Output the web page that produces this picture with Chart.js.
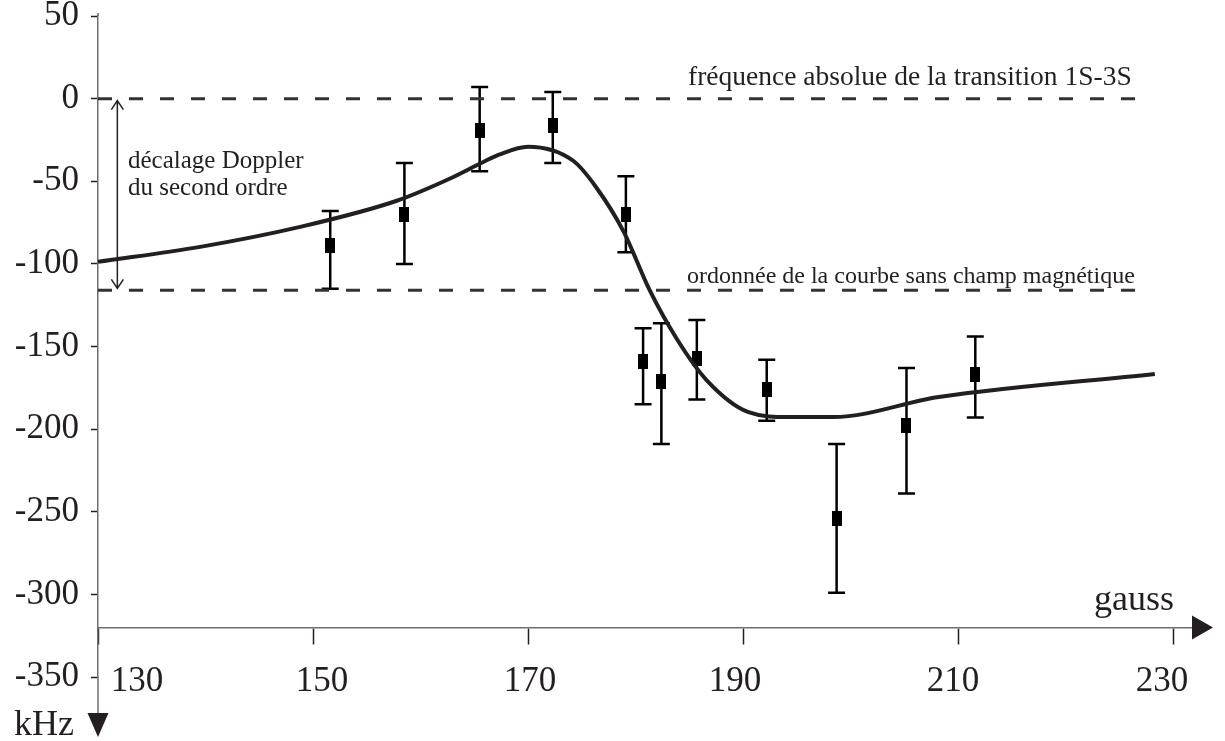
<!DOCTYPE html>
<html lang="fr">
<head>
<meta charset="utf-8">
<title>Décalage Doppler du second ordre</title>
<script src="https://cdn.jsdelivr.net/npm/chart.js@4/dist/chart.umd.min.js"></script>
<style>
  html, body { margin: 0; padding: 0; background: #fff; }
  #wrap { width: 1225px; height: 741px; }
</style>
</head>
<body>
<div id="wrap"><canvas id="chart"></canvas></div>
<script>
// ---- Data ----
const xTicks = [130, 150, 170, 190, 210, 230];
const yTicks = [-350, -300, -250, -200, -150, -100, -50, 0, 50];

// measured points (gauss, kHz) with error bars
const pointX = [151.6, 158.5, 165.5, 172.3, 179.1, 180.7, 182.4, 185.7, 192.2, 198.7, 205.2, 211.6];
const pointY = [-89, -70, -19, -16, -70, -159, -171, -157, -176, -254, -198, -167];
const errHigh = [-68, -39, 7, 4, -47, -139, -136, -134, -158, -209, -163, -144];
const errLow = [-115, -100, -44, -39, -93, -185, -209, -182, -195, -299, -239, -193];

// theoretical curve
const curveX = [130, 139.5, 148.8, 157.8, 162.7, 165.7, 167.3, 170.0, 174.2, 176.3, 178.9, 181.3, 183.9, 186.6, 190.5, 194.3, 198.4, 208.2, 228.3];
const curveY = [-98.8, -89.7, -77.6, -61.8, -48.5, -38.8, -33.9, -29.1, -37.6, -53.3, -80.6, -115.8, -146.1, -170.3, -189.7, -192.7, -192.7, -180.6, -166.7];

// reference levels
const absLevel = 0;        // fréquence absolue 1S-3S
const noFieldLevel = -116; // ordonnée sans champ magnétique
const levelX = [130, 228];
const xAxisAt = -320;

// ---- Styles ----
const INK = '#231f20';
const AXIS = '#6d6e71';
const SERIF = '"Liberation Serif", "Times New Roman", serif';
const xLabelShift = [39, 9, 2, -8, -5, -11];

// square marker used for the measured points
const marker = document.createElement('canvas');
marker.width = 10; marker.height = 15;
const mctx = marker.getContext('2d');
mctx.fillStyle = '#000';
mctx.fillRect(0, 0, 10, 15);

const toXY = (xs, ys) => xs.map((x, i) => ({ x: x, y: ys[i] }));

// error bars drawn through the chart scales
const errorBars = {
    id: 'errorBars',
    beforeDatasetsDraw(chart) {
        const { ctx, scales: { x, y } } = chart;
        ctx.save();
        ctx.strokeStyle = '#000';
        ctx.lineWidth = 2.5;
        pointX.forEach((v, i) => {
            const px = x.getPixelForValue(v);
            const top = y.getPixelForValue(errHigh[i]);
            const bot = y.getPixelForValue(errLow[i]);
            ctx.beginPath();
            ctx.moveTo(px, top); ctx.lineTo(px, bot);
            ctx.moveTo(px - 8.5, top); ctx.lineTo(px + 8.5, top);
            ctx.moveTo(px - 8.5, bot); ctx.lineTo(px + 8.5, bot);
            ctx.stroke();
        });
        ctx.restore();
    }
};

// nudge x tick labels like the original drawing
const labelNudge = {
    id: 'labelNudge',
    beforeDraw(chart) {
        const items = chart.scales.x.getLabelItems();
        if (items._nudged) return;
        items.forEach((it, i) => { it.options.translation[0] += xLabelShift[i] || 0; });
        items._nudged = true;
    }
};

// arrows and annotations
const decorations = {
    id: 'decorations',
    afterDraw(chart) {
        const { ctx, chartArea, scales: { x, y } } = chart;
        const ax = x.getPixelForValue(130);
        const ay = y.getPixelForValue(xAxisAt);
        ctx.save();

        // axis extensions and arrow heads
        ctx.strokeStyle = AXIS;
        ctx.lineWidth = 1.5;
        ctx.beginPath();
        ctx.moveTo(ax, chartArea.top - 3); ctx.lineTo(ax, chartArea.top);
        ctx.moveTo(ax, chartArea.bottom); ctx.lineTo(ax, 714);
        ctx.stroke();
        ctx.fillStyle = INK;
        ctx.beginPath();
        ctx.moveTo(ax - 10.5, 713); ctx.lineTo(ax + 10.5, 713); ctx.lineTo(ax, 737);
        ctx.closePath(); ctx.fill();
        ctx.beginPath();
        ctx.moveTo(chartArea.right - 8, ay - 12); ctx.lineTo(chartArea.right - 8, ay + 12); ctx.lineTo(1213, ay);
        ctx.closePath(); ctx.fill();

        // double arrow: décalage Doppler
        const dx = x.getPixelForValue(131.8);
        const y0 = y.getPixelForValue(absLevel) + 2;
        const y1 = y.getPixelForValue(noFieldLevel) - 2;
        ctx.strokeStyle = INK;
        ctx.lineWidth = 1.5;
        ctx.beginPath();
        ctx.moveTo(dx, y0); ctx.lineTo(dx, y1);
        ctx.moveTo(dx - 6, y0 + 9); ctx.lineTo(dx, y0); ctx.lineTo(dx + 6, y0 + 9);
        ctx.moveTo(dx - 6, y1 - 9); ctx.lineTo(dx, y1); ctx.lineTo(dx + 6, y1 - 9);
        ctx.stroke();

        // texts
        ctx.fillStyle = INK;
        ctx.textBaseline = 'alphabetic';
        ctx.textAlign = 'left';
        ctx.font = '25px ' + SERIF;
        ctx.fillText('décalage Doppler', 128, 168);
        ctx.fillText('du second ordre', 128, 195);
        ctx.font = '27.5px ' + SERIF;
        ctx.fillText('fréquence absolue de la transition 1S-3S', 688, 85);
        ctx.font = '24px ' + SERIF;
        ctx.fillText('ordonnée de la courbe sans champ magnétique', 687, 283);
        ctx.font = '36px ' + SERIF;
        ctx.fillText('gauss', 1094, 610);
        ctx.fillText('kHz', 14, 735);
        ctx.restore();
    }
};

const dashed = {
    borderColor: '#333',
    borderWidth: 3,
    borderDash: [14, 17],
    pointRadius: 0,
    fill: false
};

new Chart(document.getElementById('chart'), {
    type: 'scatter',
    data: {
        datasets: [
            Object.assign({ label: 'abs', data: toXY(levelX, levelX.map(() => absLevel)), showLine: true }, dashed),
            Object.assign({ label: 'nofield', data: toXY(levelX, levelX.map(() => noFieldLevel)), showLine: true }, dashed),
            {
                label: 'courbe',
                data: toXY(curveX, curveY),
                showLine: true,
                borderColor: INK,
                borderWidth: 4,
                cubicInterpolationMode: 'monotone',
                pointRadius: 0
            },
            {
                label: 'mesures',
                data: toXY(pointX, pointY),
                pointStyle: marker,
                pointRadius: 6,
                showLine: false
            }
        ]
    },
    options: {
        responsive: true,
        maintainAspectRatio: false,
        animation: false,
        layout: { padding: { top: 16, bottom: 64, right: 25, left: 0 } },
        plugins: { legend: { display: false }, tooltip: { enabled: false } },
        scales: {
            x: {
                type: 'linear',
                min: 130,
                max: 232.5,
                position: { y: xAxisAt },
                afterBuildTicks: s => { s.ticks = xTicks.map(v => ({ value: v })); },
                afterFit: s => { s.paddingTop = 0; s.paddingBottom = 0; },
                grid: { drawOnChartArea: false, drawTicks: true, tickLength: 16, tickColor: INK, tickWidth: 1.5 },
                border: { display: true, color: AXIS, width: 1.5 },
                ticks: { color: INK, font: { family: SERIF, size: 35 }, padding: 17, maxRotation: 0, autoSkip: false }
            },
            y: {
                type: 'linear',
                min: -350,
                max: 50,
                position: 'left',
                afterBuildTicks: s => { s.ticks = yTicks.map(v => ({ value: v })); },
                afterFit: s => { s.width = 98; s.paddingTop = 0; s.paddingBottom = 0; },
                grid: { drawOnChartArea: false, drawTicks: true, tickLength: 7, tickColor: INK, tickWidth: 1.5 },
                border: { display: true, color: AXIS, width: 1.5 },
                ticks: { color: INK, font: { family: SERIF, size: 35 }, padding: 12, autoSkip: false }
            }
        }
    },
    plugins: [errorBars, labelNudge, decorations]
});
</script>
</body>
</html>
